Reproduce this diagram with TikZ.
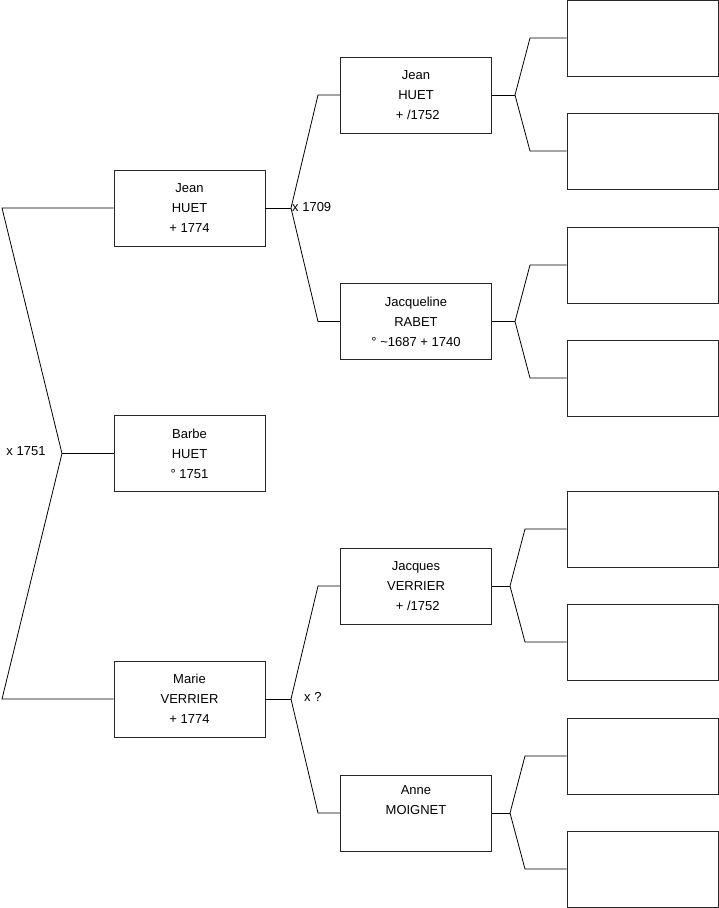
\documentclass[tikz,border=0pt]{standalone}
\usepackage{fontspec}
\setmainfont{Liberation Sans}
\begin{document}
\begin{tikzpicture}[x=1pt,y=-1pt,
  person/.style={draw=black!85, line width=0.8pt, minimum width=151pt, minimum height=76pt,
    inner sep=0pt, align=center, font=\fontsize{13}{20}\selectfont},
  link/.style={line width=0.8pt, black},
  lbl/.style={font=\fontsize{13}{14}\selectfont, inner sep=0pt}]
\useasboundingbox (0,0) rectangle (719,908);
% generation 1
\node[person] (j1) at (189.5,208) {Jean\\HUET\\+ 1774};
\node[person] (b1) at (189.5,453.5) {Barbe\\HUET\\° 1751};
\node[person] (m1) at (189.5,699) {Marie\\VERRIER\\+ 1774};
% generation 2
\node[person] (j2) at (416,95) {Jean\\HUET\\\ + /1752};
\node[person] (q2) at (416,321.5) {Jacqueline\\RABET\\° \textasciitilde1687 + 1740};
\node[person] (v2) at (416,586) {Jacques\\VERRIER\\\ + /1752};
\node[person] (a2) at (416,813) {Anne\\MOIGNET\\\strut};
% generation 3
\node[person] (e1) at (642.5,38) {};
\node[person] (e2) at (642.5,151) {};
\node[person] (e3) at (642.5,265) {};
\node[person] (e4) at (642.5,378) {};
\node[person] (e5) at (642.5,529) {};
\node[person] (e6) at (642.5,642) {};
\node[person] (e7) at (642.5,756) {};
\node[person] (e8) at (642.5,869) {};
% left fork
\coordinate (fa1) at (2,208);
\coordinate (fa2) at (62,453.5);
\coordinate (fa3) at (2,699);
\draw[link] (j1.west) -- (fa1) -- (fa2) -- (fa3) -- (m1.west);
\draw[link] (fa2) -- (b1.west);
\node[lbl] (l1) at (26,451) {x 1751};
% Jean gen1 fork
\coordinate (fb) at (291,208);
\coordinate (fb1) at (318,95);
\coordinate (fb2) at (318,321.5);
\draw[link] (j1.east) -- (fb);
\draw[link] (fb) -- (fb1) -- (j2.west);
\draw[link] (fb) -- (fb2) -- (q2.west);
\node[lbl, anchor=west] (l2) at (292,207) {x 1709};
% Marie fork
\coordinate (fc) at (291,699);
\coordinate (fc1) at (318,586);
\coordinate (fc2) at (318,813);
\draw[link] (m1.east) -- (fc);
\draw[link] (fc) -- (fc1) -- (v2.west);
\draw[link] (fc) -- (fc2) -- (a2.west);
\node[lbl, anchor=west] (l3) at (304,697) {x ?};
% gen2 forks
\coordinate (fd) at (515,95);
\coordinate (fd1) at (530,38);
\coordinate (fd2) at (530,151);
\draw[link] (j2.east) -- (fd);
\draw[link] (fd) -- (fd1) -- (e1.west);
\draw[link] (fd) -- (fd2) -- (e2.west);
\coordinate (fe) at (515,321.5);
\coordinate (fe1) at (530,265);
\coordinate (fe2) at (530,378);
\draw[link] (q2.east) -- (fe);
\draw[link] (fe) -- (fe1) -- (e3.west);
\draw[link] (fe) -- (fe2) -- (e4.west);
\coordinate (ff) at (510,586);
\coordinate (ff1) at (525,529);
\coordinate (ff2) at (525,642);
\draw[link] (v2.east) -- (ff);
\draw[link] (ff) -- (ff1) -- (e5.west);
\draw[link] (ff) -- (ff2) -- (e6.west);
\coordinate (fg) at (510,813);
\coordinate (fg1) at (525,756);
\coordinate (fg2) at (525,869);
\draw[link] (a2.east) -- (fg);
\draw[link] (fg) -- (fg1) -- (e7.west);
\draw[link] (fg) -- (fg2) -- (e8.west);
\end{tikzpicture}
\end{document}
